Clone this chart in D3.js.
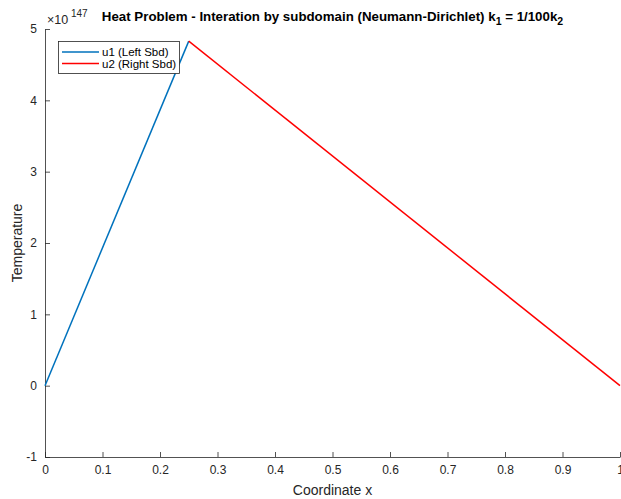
<!DOCTYPE html>
<html><head><meta charset="utf-8">
<script src="https://cdn.jsdelivr.net/npm/d3@7"></script>
<style>body{margin:0;background:#fff;} text{font-family:"Liberation Sans",Arial,sans-serif;}</style>
</head><body>
<svg id="c" width="621" height="499"></svg>
<script>
const u1X = [0, 0.25];
const u1Y = [0, 4.83];
const u2X = [0.25, 1];
const u2Y = [4.83, 0];
const xTicks = [0, 0.1, 0.2, 0.3, 0.4, 0.5, 0.6, 0.7, 0.8, 0.9, 1];
const yTicks = [-1, 0, 1, 2, 3, 4, 5];
const seriesNames = ["u1 (Left Sbd)", "u2 (Right Sbd)"];
const seriesColors = ["#0072BD", "#FF0000"];

const svg = d3.select("#c");
const L = 45, R = 620, T = 29, B = 457;
const x = d3.scaleLinear().domain([0, 1]).range([L, R]);
const y = d3.scaleLinear().domain([-1, 5]).range([B, T]);
const axCol = "#262626";

const xa = svg.append("g").attr("transform", `translate(0,${B})`)
  .call(d3.axisBottom(x).tickValues(xTicks).tickFormat(d => String(d)).tickSizeInner(-5).tickSizeOuter(0).tickPadding(8));
const ya = svg.append("g").attr("transform", `translate(${L},0)`)
  .call(d3.axisLeft(y).tickValues(yTicks).tickFormat(d => String(d)).tickSizeInner(-5).tickSizeOuter(0).tickPadding(8));
[xa, ya].forEach(a => {
  a.select(".domain").attr("stroke", axCol).attr("stroke-width", 0.8);
  a.selectAll(".tick line").attr("stroke", axCol).attr("stroke-width", 0.8);
  a.selectAll(".tick text").attr("fill", axCol).style("font-size", "12px").style("font-family", "Liberation Sans, Arial, sans-serif");
});

const line = d3.line().x(d => x(d[0])).y(d => y(d[1]));
const series = [d3.zip(u1X, u1Y), d3.zip(u2X, u2Y)];
series.forEach((s, i) => {
  svg.append("path").datum(s).attr("d", line).attr("fill", "none")
    .attr("stroke", seriesColors[i]).attr("stroke-width", 1.5);
});

// exponent
const ex = svg.append("text").attr("y", 24).attr("fill", axCol).style("font-size", "12.5px");
ex.append("tspan").attr("x", 47).text("×10");
ex.append("tspan").attr("x", 71).attr("dy", -7).style("font-size", "10px").text("147");

// title
const t = svg.append("text").attr("x", (L + R) / 2).attr("y", 21).attr("text-anchor", "middle").attr("fill", "#000")
  .style("font-size", "13.3px").style("font-weight", "bold");
t.append("tspan").text("Heat Problem - Interation by subdomain (Neumann-Dirichlet) k");
t.append("tspan").attr("dy", 4).style("font-size", "10.5px").text("1");
t.append("tspan").attr("dy", -4).text(" = 1/100k");
t.append("tspan").attr("dy", 4).style("font-size", "10.5px").text("2");

// axis labels
svg.append("text").attr("x", (L + R) / 2).attr("y", 495).attr("text-anchor", "middle")
  .attr("fill", axCol).style("font-size", "14px").text("Coordinate x");
svg.append("text").attr("transform", `translate(22,${(T + B) / 2}) rotate(-90)`).attr("text-anchor", "middle")
  .attr("fill", axCol).style("font-size", "14px").text("Temperature");

// legend
const lg = svg.append("g");
lg.append("rect").attr("x", 58.5).attr("y", 41.5).attr("width", 121).attr("height", 32)
  .attr("fill", "#fff").attr("stroke", axCol).attr("stroke-width", 0.8);
seriesNames.forEach((n, i) => {
  const yy = 52 + i * 11.5;
  lg.append("line").attr("x1", 62).attr("x2", 99).attr("y1", yy).attr("y2", yy)
    .attr("stroke", seriesColors[i]).attr("stroke-width", 1.5);
  lg.append("text").attr("x", 102).attr("y", yy + 4).attr("fill", "#000").style("font-size", "11.5px").text(n);
});
</script>
</body></html>
